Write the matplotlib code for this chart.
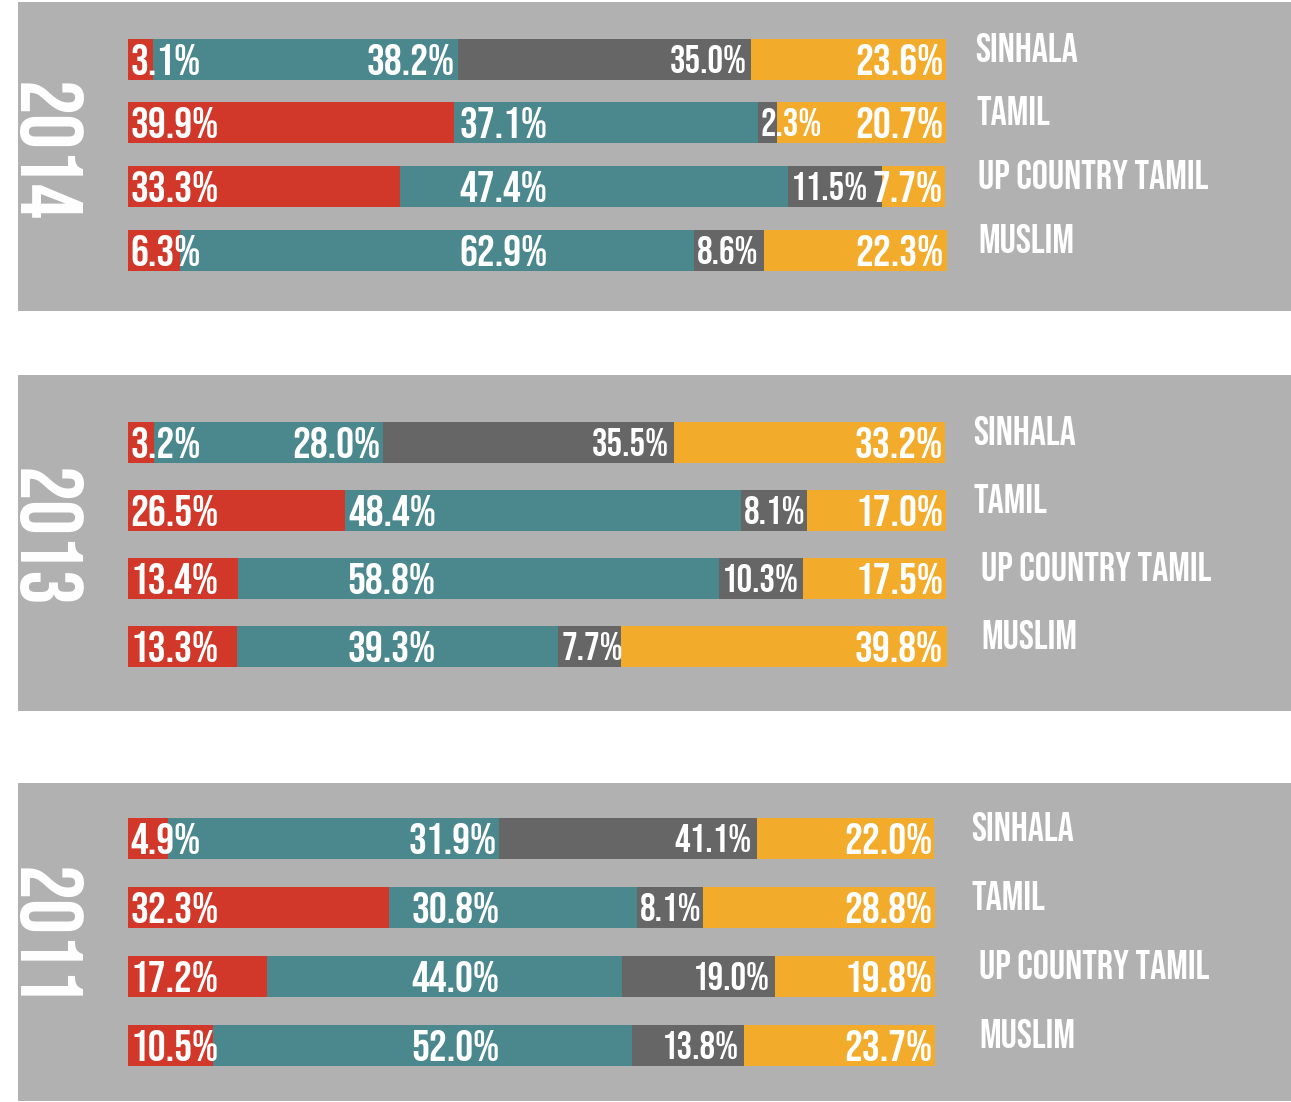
import matplotlib
matplotlib.use("Agg")
import matplotlib.pyplot as plt
import numpy as np

# data: share of each response, per community, per survey year
groups = ["SINHALA", "TAMIL", "UP COUNTRY TAMIL", "MUSLIM"]
years = ["2014", "2013", "2011"]

red_2014 = [3.1, 39.9, 33.3, 6.3]
teal_2014 = [38.2, 37.1, 47.4, 62.9]
grey_2014 = [35.0, 2.3, 11.5, 8.6]
orange_2014 = [23.6, 20.7, 7.7, 22.3]

red_2013 = [3.2, 26.5, 13.4, 13.3]
teal_2013 = [28.0, 48.4, 58.8, 39.3]
grey_2013 = [35.5, 8.1, 10.3, 7.7]
orange_2013 = [33.2, 17.0, 17.5, 39.8]

red_2011 = [4.9, 32.3, 17.2, 10.5]
teal_2011 = [31.9, 30.8, 44.0, 52.0]
grey_2011 = [41.1, 8.1, 19.0, 13.8]
orange_2011 = [22.0, 28.8, 19.8, 23.7]

series = {
    "2014": [red_2014, teal_2014, grey_2014, orange_2014],
    "2013": [red_2013, teal_2013, grey_2013, orange_2013],
    "2011": [red_2011, teal_2011, grey_2011, orange_2011],
}

# the source graphic draws a few segments at other lengths than printed
drawn_2014_sinhala = [3.1, 37.2, 35.9, 23.8]
drawn_2011_sinhala = [4.9, 41.1, 31.9, 22.0]
drawn = {("2014", 0): drawn_2014_sinhala, ("2011", 0): drawn_2011_sinhala}

colors = ["#D13829", "#4A888E", "#666666", "#F3AB2C"]
panel_bg = "#B1B1B1"
fonts = ["Bebas Neue", "Oswald", "DejaVu Sans"]

W, H = 1291, 1102
# panel boxes in pixels
panels = {
    "2014": dict(top=2, bottom=311, bar_end=946, row0=59, row3=250, teal_x=40.5, name_x=[975, 976, 978, 978]),
    "2013": dict(top=375, bottom=711, bar_end=946, row0=442, row3=646, teal_x=26.8, name_x=[973, 973, 981, 981]),
    "2011": dict(top=783, bottom=1101, bar_end=935, row0=838, row3=1045, teal_x=35.1, name_x=[971, 971, 979, 979]),
}
panel_left, bar_start = 18, 128
PX = 0.72  # points per pixel at dpi 100

fig = plt.figure(figsize=(W / 100, H / 100), dpi=100)
fig.patch.set_facecolor("white")

rows = np.arange(len(groups))

for year in years:
    p = panels[year]
    ax = fig.add_axes([panel_left / W, (H - p["bottom"]) / H,
                       (W - panel_left) / W, (p["bottom"] - p["top"]) / H])
    ax.set_facecolor(panel_bg)
    for s in ax.spines.values():
        s.set_visible(False)
    ax.set_xticks([])
    ax.set_yticks([])

    scale = (p["bar_end"] - bar_start) / 100.0
    x0 = -(bar_start - panel_left) / scale
    ax.set_xlim(x0, 100 + (W - p["bar_end"]) / scale)
    step = (p["row3"] - p["row0"]) / 3.0
    ax.set_ylim(3 + (p["bottom"] - p["row3"]) / step, -(p["row0"] - p["top"]) / step)
    bar_h = 41 / step

    red, teal, grey, orange = series[year]
    seg = np.array(series[year]).T.copy()
    for (yr, i), vals in drawn.items():
        if yr == year:
            seg[i] = vals
    left = np.zeros(len(groups))
    for k, c in enumerate(colors):
        ax.barh(rows, seg[:, k], left=left, height=bar_h, color=c, linewidth=0)
        left = left + seg[:, k]

    def label(x, y, txt, dx, ha, size=32):
        # baseline sits half a cap height below the bar centre
        dy = -0.35 * size
        ax.annotate(txt, (x, y), xytext=(dx, dy), textcoords="offset points",
                    ha=ha, va="baseline", color="white", fontsize=size,
                    family=fonts)

    for i in range(len(groups)):
        r, t, g, o = seg[i]
        # red: at bar start
        label(0, i, f"{red[i]:.1f}%", 2 * PX, "left")
        # teal: fixed column unless the segment is too short
        t_end = r + t
        if t_end < p["teal_x"] + 11:
            label(t_end, i, f"{teal[i]:.1f}%", -3 * PX, "right")
        else:
            label(max(p["teal_x"], r + 0.4), i, f"{teal[i]:.1f}%", 0, "left")
        # grey: a smaller, narrower figure
        g_end = r + t + g
        if g > 12:
            label(g_end, i, f"{grey[i]:.1f}%", -5 * PX, "right", 28)
        else:
            label(r + t, i, f"{grey[i]:.1f}%", 3 * PX, "left", 28)
        # orange: right end
        label(100, i, f"{orange[i]:.1f}%", -3 * PX, "right")

        # group name on the right
        ax.annotate(groups[i], (x0 + (p["name_x"][i] - panel_left) / scale, i),
                    xytext=(0, -2), textcoords="offset points",
                    ha="left", va="baseline", color="white", fontsize=29,
                    family=fonts)

    ax.text(30 / (W - panel_left), 0.515, year, transform=ax.transAxes,
            rotation=270, ha="center", va="center", color="white",
            fontsize=63, family=fonts, clip_on=True)

fig.savefig("out.png", dpi=100, facecolor="white")
